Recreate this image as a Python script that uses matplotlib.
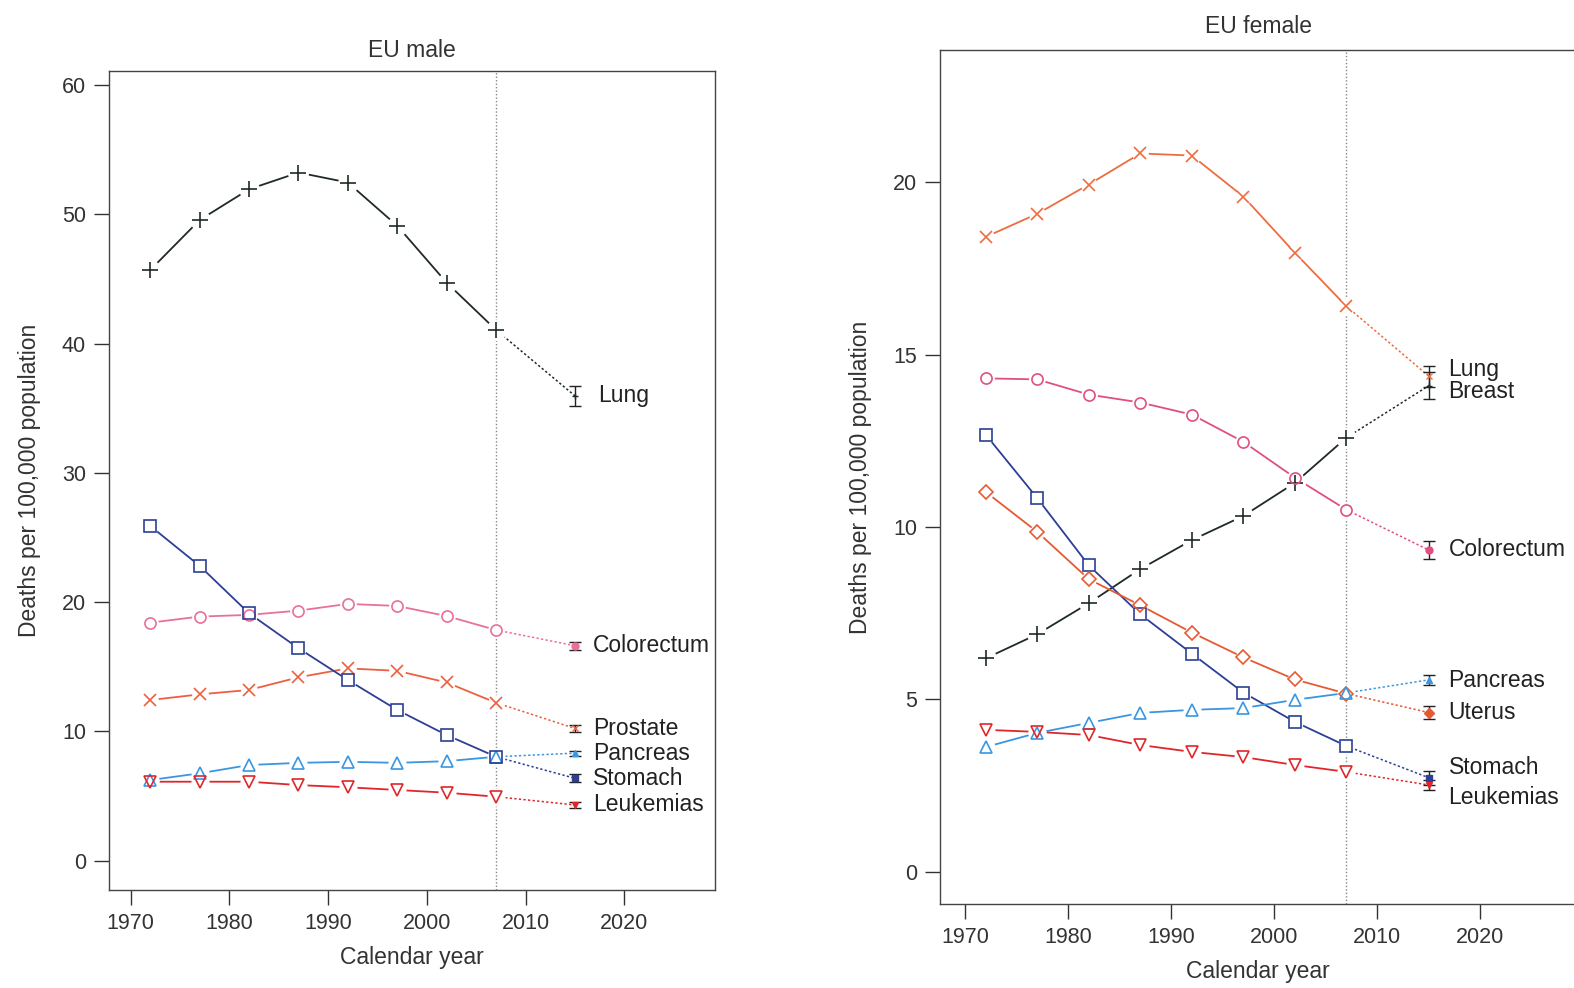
import numpy as np
import matplotlib.pyplot as plt

plt.rcParams['font.family'] = ['Liberation Sans', 'DejaVu Sans']

years = [1972, 1977, 1982, 1987, 1992, 1997, 2002, 2007]
pred_year = 2015

# EU male, deaths per 100,000 (observed 1972-2007, predicted 2015)
m_lung = [45.7, 49.57, 51.95, 53.24, 52.47, 49.12, 44.72, 41.06]
m_colorectum = [18.41, 18.88, 19.01, 19.34, 19.86, 19.7, 18.92, 17.84]
m_prostate = [12.42, 12.86, 13.2, 14.18, 14.87, 14.68, 13.78, 12.21]
m_pancreas = [6.23, 6.75, 7.39, 7.56, 7.64, 7.56, 7.69, 8.03]
m_stomach = [25.89, 22.8, 19.13, 16.43, 13.97, 11.65, 9.71, 8.03]
m_leukemias = [6.1, 6.1, 6.1, 5.84, 5.67, 5.46, 5.25, 4.94]
m_pred = {'Lung': 35.95, 'Colorectum': 16.62, 'Prostate': 10.22,
          'Pancreas': 8.31, 'Stomach': 6.36, 'Leukemias': 4.3}
m_err = {'Lung': 0.8, 'Colorectum': 0.3, 'Prostate': 0.3,
         'Pancreas': 0.2, 'Stomach': 0.3, 'Leukemias': 0.2}

# EU female
f_breast = [18.41, 19.08, 19.93, 20.83, 20.77, 19.58, 17.95, 16.4]
f_lung = [6.19, 6.89, 7.79, 8.78, 9.62, 10.32, 11.28, 12.59]
f_colorectum = [14.31, 14.28, 13.84, 13.61, 13.26, 12.47, 11.43, 10.5]
f_stomach = [12.68, 10.84, 8.89, 7.47, 6.33, 5.2, 4.35, 3.65]
f_uterus = [11.02, 9.86, 8.49, 7.73, 6.94, 6.22, 5.58, 5.17]
f_pancreas = [3.62, 4.03, 4.32, 4.61, 4.7, 4.75, 4.99, 5.19]
f_leukemias = [4.12, 4.06, 3.97, 3.68, 3.48, 3.33, 3.1, 2.9]
f_pred = {'Breast': 14.37, 'Lung': 14.1, 'Colorectum': 9.33, 'Pancreas': 5.57,
          'Uterus': 4.62, 'Stomach': 2.73, 'Leukemias': 2.52}
f_err = {'Breast': 0.3, 'Lung': 0.4, 'Colorectum': 0.25, 'Pancreas': 0.15,
         'Uterus': 0.2, 'Stomach': 0.2, 'Leukemias': 0.15}


def draw_series(ax, vals, pred, err, color, marker, ms=8):
    ax.plot(years, vals, color=color, lw=1.3, zorder=2)
    ax.plot(years, vals, ls='none', marker='o', ms=ms + 3, mfc='white',
            mec='white', zorder=3)
    ax.plot(years, vals, ls='none', marker=marker, ms=ms, mfc='none',
            mec=color, mew=1.2, zorder=4)
    ax.plot([years[-1], pred_year], [vals[-1], pred], color=color, lw=1.1,
            ls=(0, (1.5, 1.5)), zorder=2)
    ax.errorbar([pred_year], [pred], yerr=[err], color='#222222', lw=1,
                capsize=4, capthick=1, zorder=5)
    ax.plot([pred_year], [pred], marker=marker, ms=5, color=color,
            mfc=color, zorder=6)


def style_axes(ax, title, title_pad):
    for s in ax.spines.values():
        s.set_color('#444444')
        s.set_linewidth(1.0)
    ax.tick_params(direction='out', length=10.5, width=1, colors='#333333',
                   labelsize=15.5, pad=6)
    ax.set_xticks([1970, 1980, 1990, 2000, 2010, 2020])
    ax.axvline(2007, color='#888888', lw=1, ls=(0, (1, 1.5)), zorder=1)
    ax.set_xlabel('Calendar year', fontsize=16.5, color='#333333', labelpad=9)
    ax.set_ylabel('Deaths per 100,000 population', fontsize=16.5,
                  color='#333333', labelpad=15)
    ax.set_title(title, fontsize=16.5, color='#333333', pad=title_pad)


fig = plt.figure(figsize=(15.74, 9.88), dpi=100)

# ---- EU male ----
ax1 = fig.add_axes([0.06912, 0.09919, 0.38494, 0.82895])
male = [
    ('Lung', m_lung, '#1e2b22', '+', 11),
    ('Colorectum', m_colorectum, '#e8709a', 'o', 8),
    ('Prostate', m_prostate, '#ec6040', 'x', 8),
    ('Pancreas', m_pancreas, '#3a96e0', '^', 9),
    ('Stomach', m_stomach, '#2c3f94', 's', 8),
    ('Leukemias', m_leukemias, '#e0262a', 'v', 9),
]
for name, vals, col, mk, ms in male:
    draw_series(ax1, vals, m_pred[name], m_err[name], col, mk, ms)
    lx = 2017.3 if name == 'Lung' else 2016.8
    ax1.text(lx, m_pred[name], name, fontsize=16.5, color='#222222',
             va='center')
ax1.set_xlim(1967.8, 2029.13)
ax1.set_ylim(-2.28, 61.1)
ax1.set_yticks([0, 10, 20, 30, 40, 50, 60])
style_axes(ax1, 'EU male', 10)

# ---- EU female ----
ax2 = fig.add_axes([0.59739, 0.08502, 0.40388, 0.86437])
female = [
    ('Breast', f_breast, '#ee6c40', 'x', 8, 13.93),
    ('Lung', f_lung, '#1e2b22', '+', 11, 14.57),
    ('Colorectum', f_colorectum, '#e0507e', 'o', 8, 9.36),
    ('Stomach', f_stomach, '#2c3f94', 's', 8, 3.02),
    ('Uterus', f_uterus, '#e65a32', 'D', 7, 4.62),
    ('Pancreas', f_pancreas, '#3a96e0', '^', 9, 5.55),
    ('Leukemias', f_leukemias, '#e0262a', 'v', 9, 2.15),
]
for name, vals, col, mk, ms, ly in female:
    draw_series(ax2, vals, f_pred[name], f_err[name], col, mk, ms)
    ax2.text(2016.9, ly, name, fontsize=16.5, color='#222222', va='center')
ax2.set_xlim(1967.6, 2029.27)
ax2.set_ylim(-0.93, 23.83)
ax2.set_yticks([0, 5, 10, 15, 20])
ax2.spines['right'].set_visible(False)
style_axes(ax2, 'EU female', 12)

fig.savefig('out.png', dpi=100)
